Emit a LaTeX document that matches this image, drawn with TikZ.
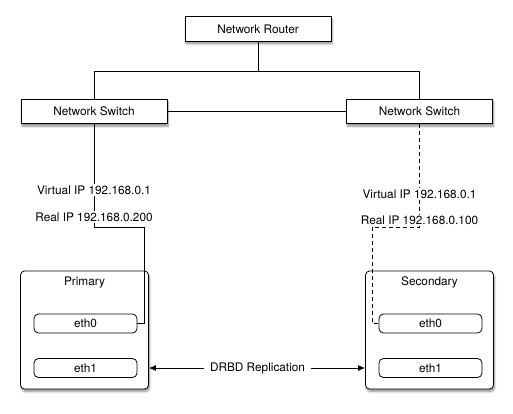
\documentclass[tikz,border=0pt]{standalone}
\usepackage{fontspec}
\setmainfont{TeX Gyre Heros}
\usepackage{tikz}
\usetikzlibrary{positioning,arrows.meta,shadows.blur}

\begin{document}
\begin{tikzpicture}[x=1pt,y=-1pt,on grid,line width=0.8pt,
    font=\fontsize{11.8}{14}\selectfont,
    >={Latex[length=7pt,width=6pt]},
    netbox/.style={draw,fill=white,minimum width=146pt,minimum height=24.5pt,
      blur shadow={shadow xshift=1pt,shadow yshift=-2.5pt,shadow blur steps=6,shadow opacity=45}},
    hostbox/.style={draw,fill=white,rounded corners=4pt,minimum width=128pt,minimum height=118pt,
      blur shadow={shadow xshift=1pt,shadow yshift=-2.5pt,shadow blur steps=6,shadow opacity=45}},
    ethbox/.style={draw,rounded corners=4.5pt,minimum width=103pt,minimum height=19pt},
    iplabel/.style={inner sep=1pt}]
    \useasboundingbox (0,0) rectangle (513,413);
    \node[netbox] (router) at (258,29) {Network Router};
    \node[netbox] (switch_l) [below left=82.5pt and 164pt of router] {Network Switch};
    \node[netbox] (switch_r) [right=325.5pt of switch_l] {Network Switch};
    \node[hostbox] (primary)   [below left=218.5pt and 9.5pt of switch_l] {};
    \node[hostbox] (secondary) [below right=218.5pt and 10pt of switch_r] {};
    \node (lbl_p) [above=48pt of primary]   {Primary};
    \node (lbl_s) [above=48pt of secondary] {Secondary};
    \node[ethbox] (eth0_p) [above right=6.5pt and 1pt of primary]   {eth0};
    \node[ethbox] (eth1_p) [below=44.5pt of eth0_p]                 {eth1};
    \node[ethbox] (eth0_s) [above right=6.5pt and 1pt of secondary] {eth0};
    \node[ethbox] (eth1_s) [below=44.5pt of eth0_s]                 {eth1};
    % ip addresses
    \node[iplabel] (vip_l) [below=78.5pt of switch_l]  {Virtual IP 192.168.0.1};
    \node[iplabel] (rip_l) [below=105.5pt of switch_l] {Real IP 192.168.0.200};
    \node[iplabel] (vip_r) [below=82.5pt of switch_r]  {Virtual IP 192.168.0.1};
    \node[iplabel] (rip_r) [below=108.5pt of switch_r] {Real IP 192.168.0.100};
    \node[inner sep=6pt] (drbd) at (257.5,368) {DRBD Replication};
    % uplinks
    \draw (router) -- ++(0,42) coordinate (hub) -| (switch_l);
    \draw (hub) -| (switch_r);
    \draw (switch_l) -- (switch_r);
    % host links
    \draw (switch_l) -- (vip_l) -- (rip_l) -- ++(0,10) -- ++(50,0) |- (eth0_p);
    \draw[dash pattern=on 4pt off 3pt] (switch_r) -- (vip_r) -- (rip_r) -- ++(0,7) -- ++(-47.5,0) |- (eth0_s);
    % replication
    \draw[->] (drbd) -- (drbd -| primary.east);
    \draw[->] (drbd) -- (drbd -| secondary.west);
\end{tikzpicture}
\end{document}
